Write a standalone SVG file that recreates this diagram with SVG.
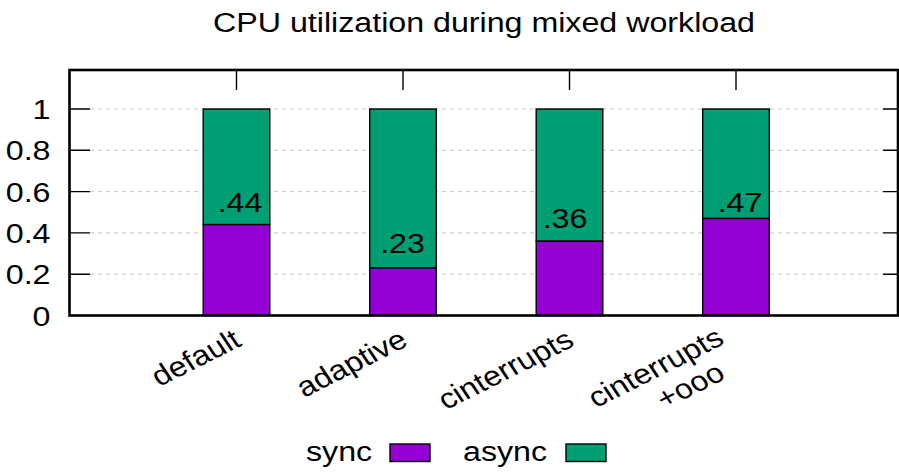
<svg xmlns="http://www.w3.org/2000/svg" width="899" height="473" viewBox="0 0 899 473">
  <style>
    text { font-family: "Liberation Sans", Arial, sans-serif; font-size: 28px; fill: #000; }
    .grid { stroke: #c4c4c4; stroke-width: 1; stroke-dasharray: 4 4; fill: none; }
    .tick { stroke: #000; stroke-width: 1.4; fill: none; }
    .frame { stroke: #000; stroke-width: 2.6; fill: none; }
    .sync { fill: #9400d3; stroke: #000; stroke-width: 1.4; }
    .async { fill: #009e73; stroke: #000; stroke-width: 1.4; }
  </style>

  <!-- title -->
  <text id="title" transform="translate(484 32) scale(1.15 1)" text-anchor="middle">CPU utilization during mixed workload</text>

  <!-- grid lines -->
  <g id="grid">
    <line class="grid" x1="90" y1="274.2" x2="883" y2="274.2"/>
    <line class="grid" x1="90" y1="232.9" x2="883" y2="232.9"/>
    <line class="grid" x1="90" y1="191.6" x2="883" y2="191.6"/>
    <line class="grid" x1="90" y1="150.3" x2="883" y2="150.3"/>
    <line class="grid" x1="90" y1="109" x2="883" y2="109"/>
  </g>

  <!-- y axis ticks and labels -->
  <g id="y-axis">
    <path class="tick" d="M69 274.2H90M69 232.9H90M69 191.6H90M69 150.3H90M69 109H90"/>
    <path class="tick" d="M883 274.2H898M883 232.9H898M883 191.6H898M883 150.3H898M883 109H898"/>
    <path class="tick" d="M236.5 70V90M403 70V90M569.5 70V90M736 70V90"/>
    <text transform="translate(50.5 325.5) scale(1.15 1)" text-anchor="end">0</text>
    <text transform="translate(50.5 284.2) scale(1.15 1)" text-anchor="end">0.2</text>
    <text transform="translate(50.5 242.9) scale(1.15 1)" text-anchor="end">0.4</text>
    <text transform="translate(50.5 201.6) scale(1.15 1)" text-anchor="end">0.6</text>
    <text transform="translate(50.5 160.3) scale(1.15 1)" text-anchor="end">0.8</text>
    <text transform="translate(50.5 119) scale(1.15 1)" text-anchor="end">1</text>
  </g>

  <!-- stacked bars: sync (bottom) + async (top) -->
  <g id="bar-default">
    <rect class="async" x="203.2" y="109" width="66.6" height="115.6"/>
    <rect class="sync" x="203.2" y="224.6" width="66.6" height="90.9"/>
    <text transform="translate(240 211.7) scale(1.15 1)" text-anchor="middle">.44</text>
  </g>
  <g id="bar-adaptive">
    <rect class="async" x="369.7" y="109" width="66.6" height="159"/>
    <rect class="sync" x="369.7" y="268" width="66.6" height="47.5"/>
    <text transform="translate(402.5 252.7) scale(1.15 1)" text-anchor="middle">.23</text>
  </g>
  <g id="bar-cinterrupts">
    <rect class="async" x="536.2" y="109" width="66.6" height="132.2"/>
    <rect class="sync" x="536.2" y="241.2" width="66.6" height="74.3"/>
    <text transform="translate(565 228.3) scale(1.15 1)" text-anchor="middle">.36</text>
  </g>
  <g id="bar-cinterrupts-ooo">
    <rect class="async" x="702.7" y="109" width="66.6" height="109.5"/>
    <rect class="sync" x="702.7" y="218.5" width="66.6" height="97"/>
    <text transform="translate(740 211.7) scale(1.15 1)" text-anchor="middle">.47</text>
  </g>

  <!-- plot border -->
  <rect id="border" class="frame" x="69.5" y="70" width="828.5" height="245.5"/>

  <!-- x axis category labels -->
  <g id="x-labels">
    <text transform="translate(243 345) scale(1.15 1) rotate(-30)" text-anchor="end">default</text>
    <text transform="translate(409.5 345) scale(1.15 1) rotate(-30)" text-anchor="end">adaptive</text>
    <text transform="translate(576 345) scale(1.15 1) rotate(-30)" text-anchor="end">cinterrupts</text>
    <text transform="translate(726 343) scale(1.15 1) rotate(-30)" text-anchor="end">cinterrupts</text>
    <text transform="translate(727 378) scale(1.15 1) rotate(-30)" text-anchor="end">+ooo</text>
  </g>

  <!-- legend -->
  <g id="legend">
    <text transform="translate(306 461) scale(1.15 1)">sync</text>
    <rect class="sync" x="390" y="444" width="40" height="17.5"/>
    <text transform="translate(463 461) scale(1.15 1)">async</text>
    <rect class="async" x="566" y="444" width="40" height="17.5"/>
  </g>
</svg>
